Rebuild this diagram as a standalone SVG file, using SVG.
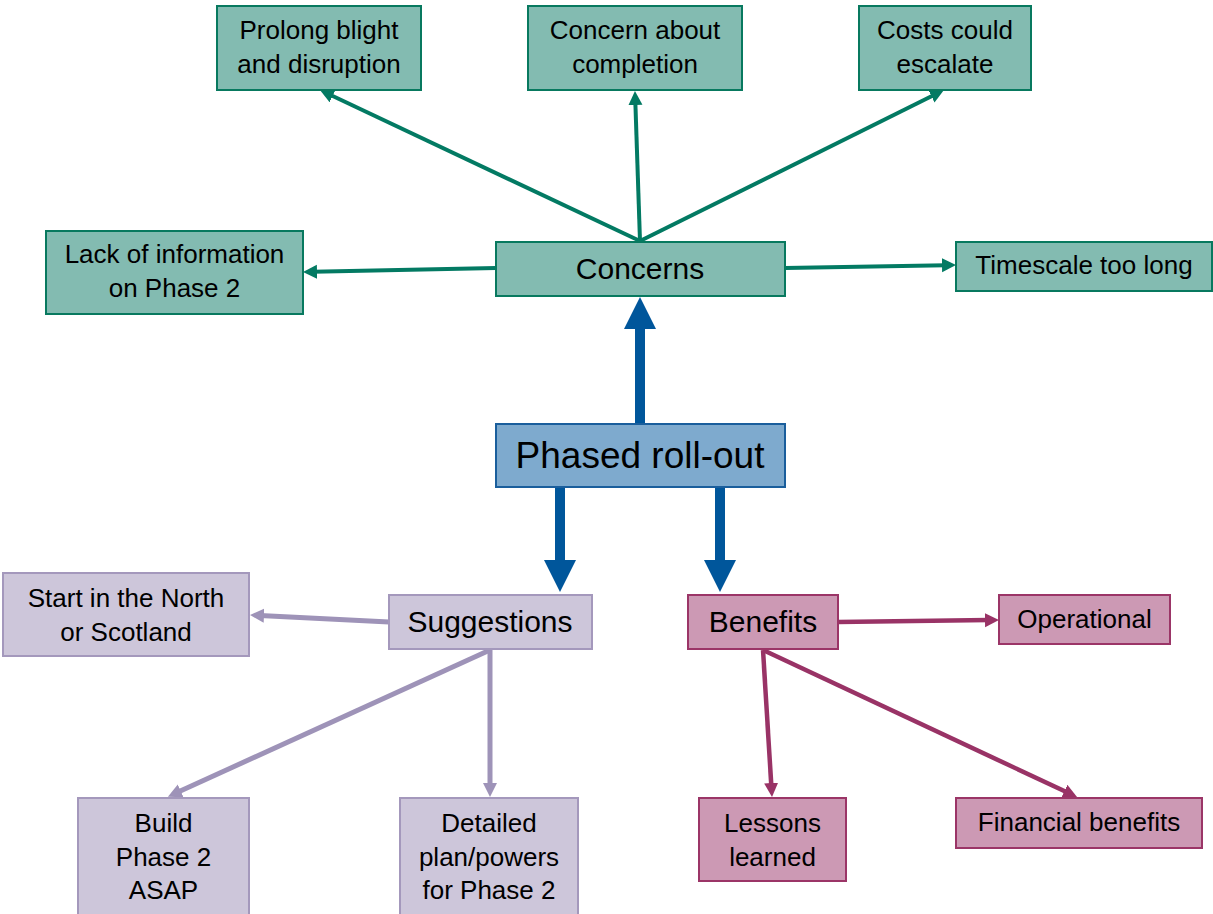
<svg xmlns="http://www.w3.org/2000/svg" width="1213" height="914" viewBox="0 0 1213 914">
<style>
text{font-family:"Liberation Sans",Arial,sans-serif;fill:#000;text-anchor:middle}
.t rect{fill:#83BBB1;stroke:#08795F;stroke-width:2}
.b rect{fill:#7EAACE;stroke:#1A5E9C;stroke-width:2}
.s rect{fill:#CDC6DA;stroke:#A498BC;stroke-width:2}
.p rect{fill:#CC99B4;stroke:#9B3567;stroke-width:2}
.f26{font-size:26px}
.f30{font-size:30px}
.f37{font-size:37px}
.ct{stroke:#037A63;stroke-width:4;fill:none;marker-end:url(#at)}
.cs{stroke:#9E93B8;stroke-width:5;fill:none;marker-end:url(#as)}
.cp{stroke:#993366;stroke-width:4.5;fill:none;marker-end:url(#ap)}
.cb{stroke:#00569B;stroke-width:10;fill:none;marker-end:url(#ab)}
</style>
<defs>
<marker id="at" markerUnits="userSpaceOnUse" markerWidth="16" markerHeight="16" refX="4" refY="7" orient="auto"><path d="M0,0 L14,7 L0,14 z" fill="#037A63"/></marker>
<marker id="as" markerUnits="userSpaceOnUse" markerWidth="16" markerHeight="16" refX="4" refY="7" orient="auto"><path d="M0,0 L14,7 L0,14 z" fill="#9E93B8"/></marker>
<marker id="ap" markerUnits="userSpaceOnUse" markerWidth="16" markerHeight="16" refX="4" refY="7" orient="auto"><path d="M0,0 L14,7 L0,14 z" fill="#993366"/></marker>
<marker id="ab" markerUnits="userSpaceOnUse" markerWidth="34" markerHeight="34" refX="4" refY="16" orient="auto"><path d="M0,0 L32,16 L0,32 z" fill="#00569B"/></marker>
</defs>
<g id="connectors">
<path class="ct" d="M640,241 L329,94.3"/>
<path class="ct" d="M640,241 L635.3,101"/>
<path class="ct" d="M640,241 L935,94.5"/>
<path class="ct" d="M496,268 L313,271.8"/>
<path class="ct" d="M785,268 L946,265.2"/>
<path class="cs" d="M389,622 L260,615.5"/>
<path class="cs" d="M490,650 L177,792.5"/>
<path class="cs" d="M490,650 L490,787"/>
<path class="cp" d="M838,622 L989,620.1"/>
<path class="cp" d="M763,650 L771.4,787"/>
<path class="cp" d="M763,650 L1068,792.8"/>
<path class="cb" d="M640,424 L640,325"/>
<path class="cb" d="M560,487 L560,564"/>
<path class="cb" d="M720,487 L720,564"/>
</g>
<g id="prolong" class="t"><rect x="217" y="6" width="204" height="84"/><text class="f26" x="319" y="39">Prolong blight</text><text class="f26" x="319" y="73">and disruption</text></g>
<g id="completion" class="t"><rect x="528" y="6" width="214" height="84"/><text class="f26" x="635" y="39">Concern about</text><text class="f26" x="635" y="73">completion</text></g>
<g id="costs" class="t"><rect x="859" y="6" width="172" height="84"/><text class="f26" x="945" y="39">Costs could</text><text class="f26" x="945" y="73">escalate</text></g>
<g id="lack" class="t"><rect x="46" y="231" width="257" height="83"/><text class="f26" x="174.5" y="263">Lack of information</text><text class="f26" x="174.5" y="297">on Phase 2</text></g>
<g id="concerns" class="t"><rect x="496" y="242" width="289" height="54"/><text class="f30" x="640" y="279">Concerns</text></g>
<g id="timescale" class="t"><rect x="956" y="242" width="256" height="49"/><text class="f26" x="1084" y="274">Timescale too long</text></g>
<g id="phased" class="b"><rect x="496" y="424" width="289" height="63"/><text class="f37" x="640" y="468">Phased roll-out</text></g>
<g id="suggestions" class="s"><rect x="389" y="595" width="203" height="54"/><text class="f30" x="490" y="632">Suggestions</text></g>
<g id="start" class="s"><rect x="3" y="573" width="246" height="83"/><text class="f26" x="126" y="607">Start in the North</text><text class="f26" x="126" y="641">or Scotland</text></g>
<g id="build" class="s"><rect x="78" y="798" width="171" height="130"/><text class="f26" x="163.5" y="832">Build</text><text class="f26" x="163.5" y="866">Phase 2</text><text class="f26" x="163.5" y="899">ASAP</text></g>
<g id="detailed" class="s"><rect x="400" y="798" width="178" height="130"/><text class="f26" x="489" y="832">Detailed</text><text class="f26" x="489" y="866">plan/powers</text><text class="f26" x="489" y="899">for Phase 2</text></g>
<g id="benefits" class="p"><rect x="688" y="595" width="150" height="54"/><text class="f30" x="763" y="632">Benefits</text></g>
<g id="operational" class="p"><rect x="999" y="595" width="171" height="49"/><text class="f26" x="1084.5" y="628">Operational</text></g>
<g id="lessons" class="p"><rect x="699" y="798" width="147" height="83"/><text class="f26" x="772.5" y="832">Lessons</text><text class="f26" x="772.5" y="866">learned</text></g>
<g id="financial" class="p"><rect x="956" y="798" width="246" height="50"/><text class="f26" x="1079" y="831">Financial benefits</text></g>
</svg>
